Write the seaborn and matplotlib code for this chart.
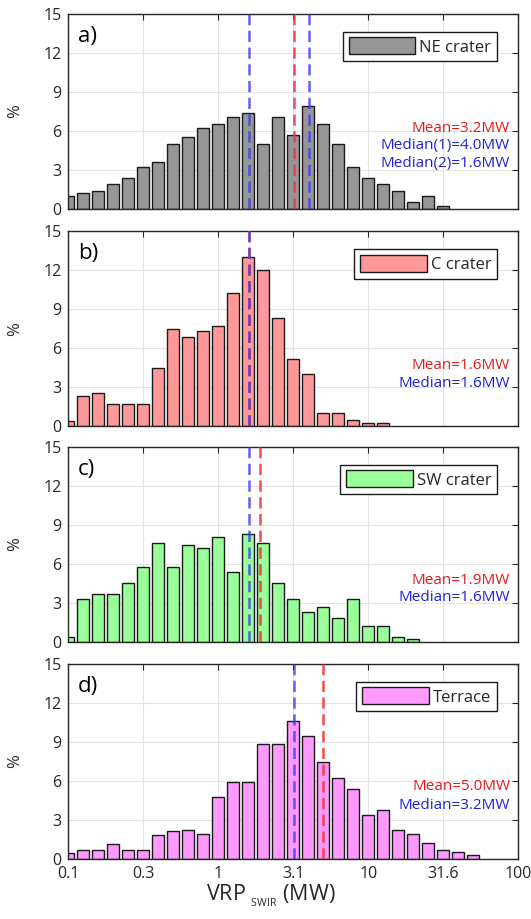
# VRP histograms for the four vent areas (log10 bins, 0.1 wide)
import numpy as np
import pandas as pd
import matplotlib
matplotlib.use('Agg')
import matplotlib.pyplot as plt
import seaborn as sns

# bin centres, log10(VRP / MW)
bin_centres = [-1.0, -0.9, -0.8, -0.7, -0.6, -0.5, -0.4, -0.3, -0.2, -0.1,
               0.0, 0.1, 0.2, 0.3, 0.4, 0.5, 0.6, 0.7, 0.8, 0.9,
               1.0, 1.1, 1.2, 1.3, 1.4, 1.5, 1.6, 1.7]

# % of detections per bin
ne_pct = [1.0, 1.2, 1.35, 1.9, 2.4, 3.25, 3.6, 5.0, 5.5, 6.2,
          6.5, 7.05, 7.4, 5.0, 7.05, 5.7, 7.9, 6.5, 5.0, 3.25,
          2.4, 1.9, 1.35, 0.5, 1.0, 0.2]
c_pct = [0.4, 2.35, 2.55, 1.7, 1.7, 1.7, 4.5, 7.45, 6.85, 7.3,
         7.7, 10.25, 13.05, 12.0, 8.35, 5.15, 4.05, 1.05, 1.05, 0.45,
         0.25, 0.25]
sw_pct = [0.4, 3.3, 3.7, 3.7, 4.55, 5.8, 7.65, 5.8, 7.45, 7.25,
          8.1, 5.4, 8.3, 7.65, 4.55, 3.3, 2.3, 2.7, 1.85, 3.3,
          1.25, 1.25, 0.4, 0.2]
terrace_pct = [0.45, 0.7, 0.7, 1.13, 0.7, 0.7, 1.82, 2.13, 2.26, 1.95,
               4.8, 5.9, 5.9, 8.85, 8.85, 10.6, 9.45, 7.45, 6.2, 5.35,
               3.4, 3.8, 2.25, 1.95, 1.25, 0.7, 0.55, 0.27]

# mean / median VRP (MW)
ne_mean, ne_median1, ne_median2 = 3.2, 4.0, 1.6
c_mean, c_median = 1.6, 1.6
sw_mean, sw_median = 1.9, 1.6
terrace_mean, terrace_median = 5.0, 3.2

tick_pos = [-1, -0.5, 0, 0.5, 1, 1.5, 2]
tick_labels = ['0.1', '0.3', '1', '3.1', '10', '31.6', '100']

sns.set_style('white')
plt.rcParams['font.family'] = ['Open Sans', 'DejaVu Sans']
plt.rcParams['mathtext.default'] = 'regular'

red = '#ee3b3b'
blue = '#3b3bee'
txt_red = '#e41a1c'
txt_blue = '#1f1fd6'
dark = '#262626'

panels = [
    dict(tag='a)', name='NE crater', vals=ne_pct, color='#969696',
         mean=ne_mean, medians=[ne_median1, ne_median2],
         notes=[('Mean=3.2MW', txt_red, 6.2), ('Median(1)=4.0MW', txt_blue, 4.85),
                ('Median(2)=1.6MW', txt_blue, 3.5)]),
    dict(tag='b)', name='C crater', vals=c_pct, color='#ff9999',
         mean=c_mean, medians=[c_median],
         notes=[('Mean=1.6MW', txt_red, 4.7), ('Median=1.6MW', txt_blue, 3.3)]),
    dict(tag='c)', name='SW crater', vals=sw_pct, color='#99ff99',
         mean=sw_mean, medians=[sw_median],
         notes=[('Mean=1.9MW', txt_red, 4.75), ('Median=1.6MW', txt_blue, 3.4)]),
    dict(tag='d)', name='Terrace', vals=terrace_pct, color='#ff99ff',
         mean=terrace_mean, medians=[terrace_median],
         notes=[('Mean=5.0MW', txt_red, 5.6), ('Median=3.2MW', txt_blue, 4.1)]),
]

fig = plt.figure(figsize=(5.31, 9.19), dpi=100)

# axes boxes in figure fractions
bottoms = [0.7726, 0.5361, 0.3014, 0.0653]
left, width, height = 0.1286, 0.8475, 0.2122

for i, p in enumerate(panels):
    ax = fig.add_axes([left, bottoms[i], width, height])
    df = pd.DataFrame({'x': bin_centres[:len(p['vals'])], 'pct': p['vals']})
    sns.barplot(data=df, x='x', y='pct', native_scale=True, width=0.8,
                color=p['color'], saturation=1, edgecolor='#1a1a1a',
                linewidth=1.0, errorbar=None, label=p['name'], ax=ax, zorder=2)

    ax.axvline(np.log10(p['mean']), color=red, lw=1.8, dashes=(4.5, 2.2),
               alpha=0.9, zorder=3)
    for m in p['medians']:
        ax.axvline(np.log10(m), color=blue, lw=1.8, dashes=(4.5, 2.2),
                   alpha=0.8, zorder=3)

    for txt, col, yv in p['notes']:
        ax.text(0.982, yv, txt, color=col, fontsize=11, ha='right', va='center',
                transform=ax.get_yaxis_transform(), zorder=4)

    ax.text(0.022, 0.94, p['tag'], transform=ax.transAxes, fontsize=16,
            ha='left', va='top', color='black')

    leg = ax.legend(loc='upper right', bbox_to_anchor=(0.953, 0.91),
                    borderaxespad=0, fancybox=False, framealpha=1,
                    edgecolor='#1a1a1a', fontsize=12, handlelength=4.0,
                    handleheight=1.2, handletextpad=0.25, borderpad=0.35)
    leg.get_frame().set_linewidth(1.0)

    ax.set_xlim(-1, 2)
    ax.set_ylim(0, 15)
    ax.set_xticks(tick_pos)
    ax.set_xticklabels(tick_labels)
    ax.set_yticks([0, 3, 6, 9, 12, 15])
    ax.grid(True, color='#e3e3e3', lw=0.8)
    ax.set_axisbelow(True)
    ax.tick_params(direction='in', top=True, right=True, length=4, width=0.8,
                   colors=dark, labelsize=11.5, pad=5)
    for s in ax.spines.values():
        s.set_color(dark)
        s.set_linewidth(1.0)

    ax.set_ylabel('%', fontsize=12, color=dark)
    ax.yaxis.set_label_coords(-0.1, 0.5)
    if i < 3:
        ax.tick_params(labelbottom=False)
        ax.set_xlabel('')
    else:
        ax.set_xlabel(r'VRP $_{_{SWIR}}$ (MW)', fontsize=15.5, color=dark)
        ax.xaxis.set_label_coords(0.45, -0.12)

fig.savefig('out.png', dpi=100)
